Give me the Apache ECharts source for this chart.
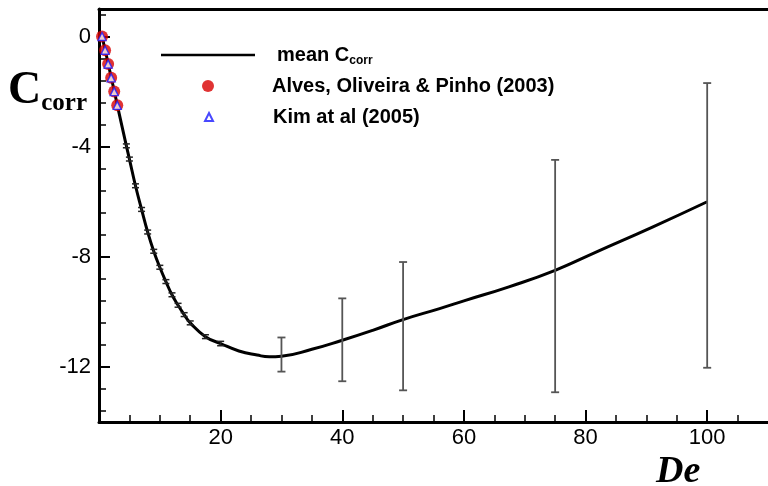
<!DOCTYPE html>
<html><head><meta charset="utf-8">
<script src="https://cdn.jsdelivr.net/npm/echarts@6/dist/echarts.min.js"></script>
<style>html,body{margin:0;padding:0;background:#fff}#c{width:768px;height:486px}</style>
</head><body><div id="c"></div>
<script>
// mean C_corr curve
const deLine = [0.5,1,1.5,2,2.5,3,4.5,5,6,7,8,9,10,11,12,13,14,15,17.5,20,23,26,28,30,35,40,45,50,56,60,67.4,75,82,91,100];
const cLine  = [0,-0.48,-0.97,-1.48,-1.97,-2.48,-3.97,-4.45,-5.42,-6.28,-7.1,-7.8,-8.38,-8.9,-9.38,-9.76,-10.1,-10.4,-10.9,-11.15,-11.42,-11.57,-11.63,-11.61,-11.36,-11.03,-10.67,-10.28,-9.88,-9.6,-9.09,-8.49,-7.8,-6.92,-6.0];
// literature points
const dePts   = [0.5,1,1.5,2,2.5,3];
const cAlves  = [0,-0.5,-1,-1.5,-2,-2.5];
const cKim    = [0,-0.5,-1,-1.5,-2,-2.5];
// small error bars
const deErrSmall = [4.5,5,6,7,8,9,10,11,12,13,14,15,17.5,20];
const errSmallHi = [-3.9,-4.38,-5.35,-6.21,-7.03,-7.73,-8.31,-8.83,-9.31,-9.69,-10.03,-10.33,-10.83,-11.07];
const errSmallLo = [-4.04,-4.52,-5.49,-6.35,-7.17,-7.87,-8.45,-8.97,-9.45,-9.83,-10.17,-10.47,-10.97,-11.23];
// large error bars
const deErrBig = [30,40,50,75,100];
const errBigHi = [-10.93,-9.51,-8.19,-4.48,-1.69];
const errBigLo = [-12.17,-12.52,-12.85,-12.92,-12.03];
// ticks
const xMajor = [20,40,60,80,100];
const xMinor = [5,10,15,25,30,35,45,50,55,65,70,75,85,90,95,105];
const yMajor = [0,-4,-8,-12];
const yMinor = [0.8,-0.8,-1.6,-2.4,-3.2,-4.8,-5.6,-6.4,-7.2,-8.8,-9.6,-10.4,-11.2,-12.8,-13.6];

const chart = echarts.init(document.getElementById('c'), null, {renderer:'canvas'});
const lineData = deLine.map((d,i)=>[d,cLine[i]]);
const alvesData = dePts.map((d,i)=>[d,cAlves[i]]);
const kimData = dePts.map((d,i)=>[d,cKim[i]]);
const smallErr = deErrSmall.map((d,i)=>[d,errSmallLo[i],errSmallHi[i]]);
const bigErr = deErrBig.map((d,i)=>[d,errBigLo[i],errBigHi[i]]);

function errRender(color, width, capHalf){
  return function(params, api){
    const x = api.value(0), lo = api.value(1), hi = api.value(2);
    const pHi = api.coord([x,hi]), pLo = api.coord([x,lo]);
    const st = {stroke:color, lineWidth:width};
    return {type:'group', children:[
      {type:'line', shape:{x1:pHi[0],y1:pHi[1],x2:pLo[0],y2:pLo[1]}, style:st},
      {type:'line', shape:{x1:pHi[0]-capHalf,y1:pHi[1],x2:pHi[0]+capHalf,y2:pHi[1]}, style:st},
      {type:'line', shape:{x1:pLo[0]-capHalf,y1:pLo[1],x2:pLo[0]+capHalf,y2:pLo[1]}, style:st}
    ]};
  };
}

const tickFont = {fontFamily:'Liberation Sans', fontSize:22, color:'#000'};
const legFont = {fontFamily:'Liberation Sans', fontWeight:'bold', color:'#000'};

chart.setOption({
  animation:false,
  backgroundColor:'#fff',
  grid:{left:99, right:0, top:9, bottom:64, containLabel:false},
  title:[
    {text:'{c|C}{s|corr}', left:8, top:66, padding:0,
     textStyle:{rich:{
       c:{fontFamily:'Liberation Serif', fontWeight:'bold', fontSize:46, lineHeight:50, color:'#000'},
       s:{fontFamily:'Liberation Serif', fontWeight:'bold', fontSize:25, lineHeight:4, verticalAlign:'bottom', color:'#000'}
     }}},
    {text:'De', left:656, top:454, padding:0,
     textStyle:{fontFamily:'Liberation Serif', fontWeight:'bold', fontStyle:'italic', fontSize:38, lineHeight:36, color:'#000'}}
  ],
  legend:[
    {data:[{name:'mean Ccorr', icon:'rect'}], left:161, top:45, padding:0, orient:'vertical', itemWidth:94, itemHeight:2.5, selectedMode:false,
     itemStyle:{color:'#000', borderWidth:0},
     formatter:()=>'{m|mean C}{s|corr}',
     textStyle:{rich:{
       m:Object.assign({fontSize:20, lineHeight:24, padding:[0,0,0,17]}, legFont),
       s:Object.assign({fontSize:12, lineHeight:8, verticalAlign:'bottom'}, legFont)
     }}},
    {data:['Alves, Oliveira & Pinho (2003)'], left:202, top:76, padding:0, orient:'vertical', itemWidth:12, itemHeight:12, selectedMode:false,
     formatter:(n)=>'{t|'+n+'}',
     textStyle:{rich:{t:Object.assign({fontSize:20, lineHeight:24, padding:[0,0,0,53]}, legFont)}}},
    {data:['Kim at al (2005)'], left:204, top:107, padding:0, orient:'vertical', itemWidth:8, itemHeight:8, selectedMode:false,
     formatter:(n)=>'{t|'+n+'}',
     textStyle:{rich:{t:Object.assign({fontSize:20, lineHeight:24, padding:[0,0,0,55]}, legFont)}}}
  ],
  xAxis:[
    {type:'value', min:0, max:110, position:'bottom',
     axisLine:{show:true, onZero:false, lineStyle:{color:'#000', width:3}},
     axisTick:{show:true, inside:true, length:12, customValues:xMajor, lineStyle:{color:'#000', width:2}},
     axisLabel:{show:true, margin:5, customValues:xMajor, ...tickFont},
     splitLine:{show:false}},
    {type:'value', min:0, max:110, position:'bottom',
     axisLine:{show:false, onZero:false},
     axisTick:{show:true, inside:true, length:7, customValues:xMinor, lineStyle:{color:'#000', width:1.5}},
     axisLabel:{show:false}, splitLine:{show:false}},
    {type:'value', min:0, max:110, position:'top',
     axisLine:{show:true, onZero:false, lineStyle:{color:'#000', width:3}},
     axisTick:{show:false}, axisLabel:{show:false}, splitLine:{show:false}}
  ],
  yAxis:[
    {type:'value', min:-14, max:1, position:'left',
     axisLine:{show:true, onZero:false, lineStyle:{color:'#000', width:3}},
     axisTick:{show:true, inside:true, length:11, customValues:yMajor, lineStyle:{color:'#000', width:2}},
     axisLabel:{show:true, margin:8, customValues:yMajor, ...tickFont},
     splitLine:{show:false}},
    {type:'value', min:-14, max:1, position:'left',
     axisLine:{show:false, onZero:false},
     axisTick:{show:true, inside:true, length:7, customValues:yMinor, lineStyle:{color:'#000', width:1.5}},
     axisLabel:{show:false}, splitLine:{show:false}}
  ],
  series:[
    {name:'mean Ccorr', type:'line', data:lineData, smooth:0.5, symbol:'none', showSymbol:false,
     lineStyle:{color:'#000', width:3}, itemStyle:{color:'#000'}, z:2},
    {name:'errSmall', type:'custom', data:smallErr, renderItem:errRender('#222',1.5,3.5), encode:{x:0,y:[1,2]}, z:3},
    {name:'errBig', type:'custom', data:bigErr, renderItem:errRender('#555',1.8,4), encode:{x:0,y:[1,2]}, z:3},
    {name:'Alves, Oliveira & Pinho (2003)', type:'scatter', data:alvesData, symbol:'circle', symbolSize:12,
     itemStyle:{color:'#d80000'}, z:4},
    {name:'Kim at al (2005)', type:'scatter', data:kimData, symbol:'triangle', symbolSize:8,
     itemStyle:{color:'#ffffff', borderColor:'#1a1aff', borderWidth:1.4}, z:5}
  ]
});
</script></body></html>
